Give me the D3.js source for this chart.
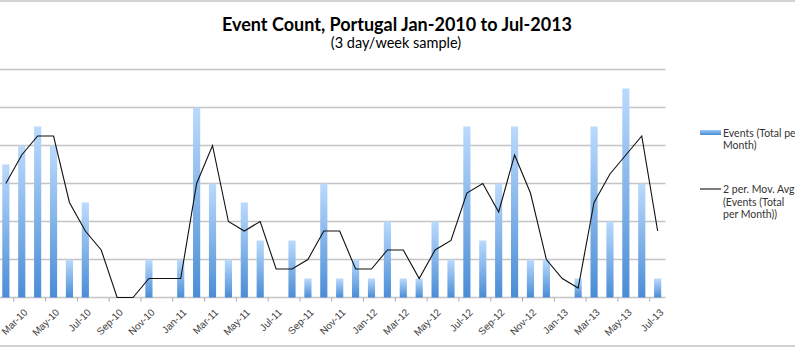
<!DOCTYPE html>
<head>
<meta charset="utf-8">
</head>
<style>
  body { margin: 0; background: #fff; font-family: 'Lato', 'Open Sans', sans-serif; }
  svg { display: block; }
  .xaxis .domain { display: none; }
  .xaxis text { fill: #404040; font-size: 10px; }
</style>
<svg width="795" height="349"></svg>
<script src="https://d3js.org/d3.v7.min.js"></script>
<script>
// categories, one per month
var months = ["Jan-10","Feb-10","Mar-10","Apr-10","May-10","Jun-10","Jul-10","Aug-10","Sep-10","Oct-10","Nov-10","Dec-10",
              "Jan-11","Feb-11","Mar-11","Apr-11","May-11","Jun-11","Jul-11","Aug-11","Sep-11","Oct-11","Nov-11","Dec-11",
              "Jan-12","Feb-12","Mar-12","Apr-12","May-12","Jun-12","Jul-12","Aug-12","Sep-12","Oct-12","Nov-12","Dec-12",
              "Jan-13","Feb-13","Mar-13","Apr-13","May-13","Jun-13","Jul-13"];

// Events (Total per Month)
var events = [5,7,8,9,8,2,5,0,0,0,2,0,
              2,10,6,2,5,3,0,3,1,6,1,2,
              1,4,1,1,4,2,9,3,6,9,2,2,
              0,1,9,4,11,6,1];

// 2 per. Mov. Avg. (Events (Total per Month))
var movAvg = [null,6,7.5,8.5,8.5,5,3.5,2.5,0,0,1,1,
              1,6,8,4,3.5,4,1.5,1.5,2,3.5,3.5,1.5,
              1.5,2.5,2.5,1,2.5,3,5.5,6,4.5,7.5,5.5,2,
              1,0.5,5,6.5,7.5,8.5,3.5];

var yTicks = [0,2,4,6,8,10,12];
var xLabels = months.filter(function(d, i) { return i % 2 === 0; });

var svg = d3.select("svg");

// chart border lines (top and bottom of the frame)
svg.append("rect").attr("x", 0).attr("y", 0).attr("width", 795).attr("height", 2).attr("fill", "#d2d2d2");
svg.append("rect").attr("x", 0).attr("y", 345).attr("width", 795).attr("height", 2).attr("fill", "#d2d2d2");

// plot area is wider than the picture: left edge sits off canvas
var x = d3.scaleBand()
    .domain(months)
    .range([-18, 665.6])
    .paddingInner(0.55)
    .paddingOuter(0.275);

var y = d3.scaleLinear()
    .domain([0, 12])
    .range([297.5, 69.5]);

var defs = svg.append("defs");
var grad = defs.append("linearGradient")
    .attr("id", "barGrad")
    .attr("x1", 0).attr("y1", 0).attr("x2", 0).attr("y2", 1);
grad.append("stop").attr("offset", "0%").attr("stop-color", "#bbdafd");
grad.append("stop").attr("offset", "100%").attr("stop-color", "#4a8dd6");

var gradH = defs.append("linearGradient")
    .attr("id", "legGrad")
    .attr("x1", 0).attr("y1", 0).attr("x2", 0).attr("y2", 1);
gradH.append("stop").attr("offset", "0%").attr("stop-color", "#9cc8f7");
gradH.append("stop").attr("offset", "100%").attr("stop-color", "#4a8dd6");

// gridlines
svg.append("g")
  .selectAll("line")
  .data(yTicks)
  .enter().append("line")
    .attr("x1", x.range()[0])
    .attr("x2", x.range()[1])
    .attr("y1", function(d) { return y(d); })
    .attr("y2", function(d) { return y(d); })
    .attr("stroke", "#c4c4c4")
    .attr("stroke-width", 1.5);

// bars
svg.append("g")
  .selectAll("rect")
  .data(events)
  .enter().append("rect")
    .attr("x", function(d, i) { return x(months[i]); })
    .attr("y", function(d) { return y(d); })
    .attr("width", x.bandwidth())
    .attr("height", function(d) { return y(0) - y(d); })
    .attr("fill", "url(#barGrad)");

// x axis: labels every other month, ticks at category boundaries
var xAxis = svg.append("g")
    .attr("class", "xaxis")
    .attr("transform", "translate(0," + y(0) + ")")
    .call(d3.axisBottom(x).tickValues(xLabels).tickSize(0));

xAxis.selectAll("text")
    .attr("x", 0)
    .attr("y", 0)
    .attr("dy", "0.35em")
    .attr("text-anchor", "end")
    .attr("transform", "translate(4,13) rotate(-45)");

svg.append("g")
  .selectAll("line")
  .data(xLabels)
  .enter().append("line")
    .attr("x1", function(d) { return x(d) - x.step() * x.paddingOuter(); })
    .attr("x2", function(d) { return x(d) - x.step() * x.paddingOuter(); })
    .attr("y1", y(0))
    .attr("y2", y(0) + 4)
    .attr("stroke", "#a8a8a8")
    .attr("stroke-width", 1);

// moving average line
var line = d3.line()
    .defined(function(d) { return d != null; })
    .x(function(d, i) { return x(months[i]) + x.bandwidth() / 2; })
    .y(function(d) { return y(d); });

svg.append("path")
    .datum(movAvg)
    .attr("fill", "none")
    .attr("stroke", "#111")
    .attr("stroke-width", 1.1)
    .attr("d", line);

// title
svg.append("text")
    .attr("x", 397)
    .attr("y", 31)
    .attr("text-anchor", "middle")
    .attr("font-size", 18)
    .attr("font-weight", "bold")
    .attr("fill", "#000")
    .text("Event Count, Portugal Jan-2010 to Jul-2013");

svg.append("text")
    .attr("x", 396)
    .attr("y", 48)
    .attr("text-anchor", "middle")
    .attr("font-size", 14.5)
    .attr("fill", "#000")
    .text("(3 day/week sample)");

// legend
var legend = svg.append("g")
    .attr("font-size", 10.5)
    .attr("fill", "#333");

legend.append("rect")
    .attr("x", 700).attr("y", 130)
    .attr("width", 21).attr("height", 5)
    .attr("fill", "url(#legGrad)");

legend.append("text")
    .attr("x", 723).attr("y", 136.5)
    .selectAll("tspan")
    .data(["Events (Total per", "Month)"])
    .enter().append("tspan")
      .attr("x", 723)
      .attr("dy", function(d, i) { return i ? 12.7 : 0; })
      .text(function(d) { return d; });

legend.append("line")
    .attr("x1", 700).attr("x2", 721)
    .attr("y1", 189).attr("y2", 189)
    .attr("stroke", "#111")
    .attr("stroke-width", 1.1);

legend.append("text")
    .attr("x", 723).attr("y", 193)
    .selectAll("tspan")
    .data(["2 per. Mov. Avg.", "(Events (Total", "per Month))"])
    .enter().append("tspan")
      .attr("x", 723)
      .attr("dy", function(d, i) { return i ? 12.7 : 0; })
      .text(function(d) { return d; });
</script>
